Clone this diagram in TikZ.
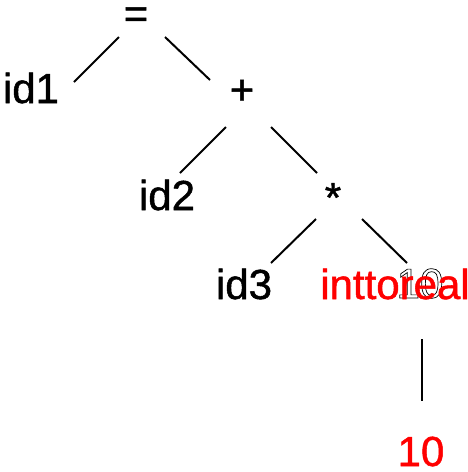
\documentclass[tikz,border=0pt]{standalone}
\usepackage{fontspec}
\setmainfont{Liberation Sans}[FakeBold=1.2]
\newfontfamily\ghostfont{Liberation Sans}
\definecolor{tred}{RGB}{255,0,0}
\tikzset{
  lbl/.style={inner sep=0pt, anchor=base, text height=30pt, text depth=0pt, font=\fontsize{42}{50}\selectfont},
  red lbl/.style={lbl, text=tred},
  edge/.style={line width=2pt, black}
}
\newcommand{\outlinetext}[1]{{\ghostfont\special{pdf:literal direct 1 Tr 0.7 w}#1\special{pdf:literal direct 0 Tr}}}
\begin{document}
\begin{tikzpicture}[x=1pt,y=-1pt]
\useasboundingbox (0,0) rectangle (468,472);
% nodes
\node[lbl] (eq) at (136,28) {=};
\node[lbl] (id1) at (31,103) {id1};
\node[lbl] (plus) at (242,104) {+};
\node[lbl] (id2) at (167,210) {id2};
\node[lbl] (star) at (333,212) {*};
\node[lbl] (id3) at (244,299) {id3};
\node[lbl] (ghost) at (420,298) {\outlinetext{10}};
\node[red lbl] (conv) at (395,299) {inttoreal};
\node[red lbl] (ten) at (421,466) {10};
% connector ends
\coordinate (eqL) at (119,37);  \coordinate (id1T) at (74,82);
\coordinate (eqR) at (165,37);  \coordinate (plusT) at (210,80);
\coordinate (plusL) at (226,127); \coordinate (id2T) at (180,173);
\coordinate (plusR) at (271,127); \coordinate (starT) at (317,173);
\coordinate (starL) at (316,219); \coordinate (id3T) at (271,263);
\coordinate (starR) at (362,219); \coordinate (convT) at (407,263);
\coordinate (convB) at (422,339); \coordinate (tenT) at (422,401);
% connectors
\draw[edge] (eqL) -- (id1T);
\draw[edge] (eqR) -- (plusT);
\draw[edge] (plusL) -- (id2T);
\draw[edge] (plusR) -- (starT);
\draw[edge] (starL) -- (id3T);
\draw[edge] (starR) -- (convT);
\draw[edge] (convB) -- (tenT);
\end{tikzpicture}
\end{document}
